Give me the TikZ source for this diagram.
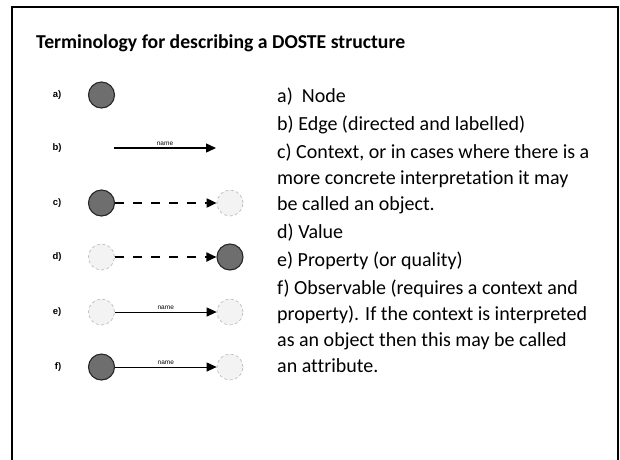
\documentclass[tikz,border=0pt]{standalone}
\usepackage{fontspec}
\setmainfont{Carlito}[Ligatures=NoCommon]
\newfontfamily\labelfont{Liberation Sans}
\usetikzlibrary{arrows.meta}

\definecolor{nodegray}{HTML}{6E6E6E}
\definecolor{palegray}{HTML}{F3F3F3}

\tikzset{
  fullnode/.style={circle, minimum size=26pt, inner sep=0pt, fill=nodegray, draw=black!85, line width=1.1pt},
  emptynode/.style={circle, minimum size=26pt, inner sep=0pt, fill=palegray, draw=black!25, dash pattern=on 3pt off 2.5pt, line width=0.7pt},
  linkarrow/.style={-{Triangle[length=10pt,width=9pt]}, line width=1pt},
  dasharrow/.style={-{Triangle[length=10pt,width=9pt]}, line width=1.8pt, dash pattern=on 9pt off 9pt},
  rowlabel/.style={font=\labelfont\fontsize{9.5}{10}\bfseries\selectfont, inner sep=0pt},
  namelabel/.style={above, font=\labelfont\fontsize{6.5}{7}\selectfont, inner sep=1.5pt},
  termtext/.style={anchor=base west, align=left, inner sep=0pt, font=\fontsize{20}{26}\selectfont}
}

\begin{document}
\begin{tikzpicture}[x=1pt,y=-1pt]
   % Slide area and frame
   \useasboundingbox (0,0) rectangle (620,459);
   \draw[line width=2pt] (12,462) -- (12,7) -- (618,7) -- (618,462);
   % Title
   \node[anchor=base west, inner sep=0pt, font=\fontsize{19.7}{24}\selectfont\bfseries] (title) at (36,48) {Terminology for describing a DOSTE structure};
   % a) Node
   \node[rowlabel] (la) at (57,95) {a)};
   \node[fullnode] (a1) at (101.5,95) {};
   % b) Edge
   \node[rowlabel] (lb) at (57,148) {b)};
   \coordinate (b1) at (114,148);
   \coordinate (b2) at (216,148);
   \draw[linkarrow, line width=1.4pt] (b1) -- node[namelabel] {name} (b2);
   % c) Context
   \node[rowlabel] (lc) at (57,203) {c)};
   \node[fullnode] (c1) at (101.5,203) {};
   \node[emptynode] (c2) at (230,203) {};
   \draw[dasharrow] (c1) -- (c2);
   % d) Value
   \node[rowlabel] (ld) at (57,257) {d)};
   \node[emptynode] (d1) at (101.5,257) {};
   \node[fullnode] (d2) at (230,257) {};
   \draw[dasharrow] (d1) -- (d2);
   % e) Property
   \node[rowlabel] (le) at (57,312) {e)};
   \node[emptynode] (e1) at (101.5,312) {};
   \node[emptynode] (e2) at (230,312) {};
   \draw[linkarrow] (e1) -- node[namelabel] {name} (e2);
   % f) Observable
   \node[rowlabel] (lf) at (58,367) {f)};
   \node[fullnode] (f1) at (101.5,367) {};
   \node[emptynode] (f2) at (230,367) {};
   \draw[linkarrow] (f1) -- node[namelabel] {name} (f2);
   % Explanations (base = last line)
   \node[termtext] (ta) at (277,102.5) {a)~ Node};
   \node[termtext] (tb) at (277,130.5) {b) Edge (directed and labelled)};
   \node[termtext] (tc) at (277,210.5) {c) Context, or in cases where there is a\\more concrete interpretation it may\\be called an object.};
   \node[termtext] (td) at (277,238.5) {d) Value};
   \node[termtext] (te) at (277,266.5) {e) Property (or quality)};
   \node[termtext] (tf) at (277,372.5) {f) Observable (requires a context and\\property). If the context is interpreted\\as an object then this may be called\\an attribute.};
\end{tikzpicture}
\end{document}
